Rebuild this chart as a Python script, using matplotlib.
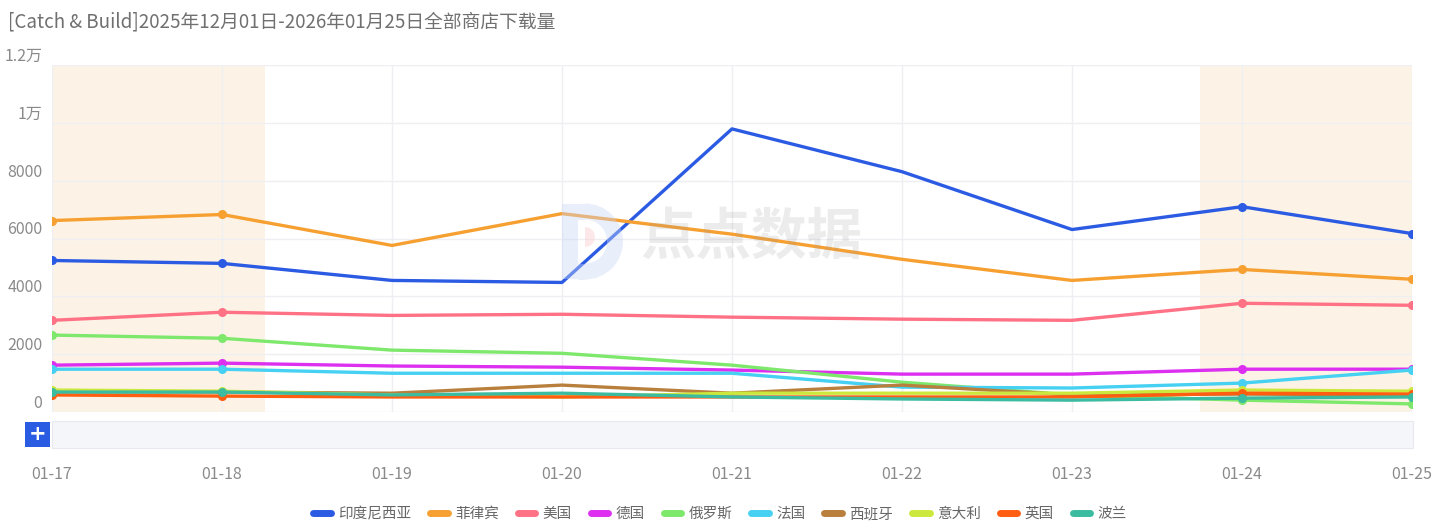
import matplotlib
matplotlib.use('Agg')
import matplotlib.pyplot as plt
from matplotlib.patches import Rectangle, Wedge

plt.rcParams['font.family'] = ['Noto Sans CJK SC', 'DejaVu Sans']

# data
dates = ['01-17', '01-18', '01-19', '01-20', '01-21', '01-22', '01-23', '01-24', '01-25']
countries = ['印度尼西亚', '菲律宾', '美国', '德国', '俄罗斯', '法国', '西班牙', '意大利', '英国', '波兰']
indonesia = [5240, 5140, 4550, 4480, 9790, 8310, 6310, 7100, 6170]
philippines = [6620, 6830, 5760, 6860, 6150, 5280, 4550, 4930, 4590]
usa = [3170, 3450, 3340, 3380, 3280, 3210, 3170, 3760, 3690]
germany = [1620, 1690, 1590, 1550, 1450, 1310, 1310, 1480, 1480]
russia = [2660, 2550, 2140, 2030, 1620, 1030, 590, 410, 280]
france = [1480, 1480, 1340, 1340, 1340, 860, 830, 1000, 1450]
spain = [700, 690, 650, 930, 650, 930, 590, 620, 590]
italy = [760, 720, 590, 520, 650, 650, 650, 760, 720]
uk = [590, 550, 520, 520, 520, 520, 520, 650, 620]
poland = [690, 690, 590, 650, 520, 450, 410, 480, 520]
series = [indonesia, philippines, usa, germany, russia, france, spain, italy, uk, poland]
colors = ['#2c5be3', '#f7a032', '#ff7185', '#dc2ff0', '#7de86b', '#46d0f2',
          '#b97f3c', '#cde83c', '#ff5d10', '#3bbba0']
yticks = [0, 2000, 4000, 6000, 8000, 10000, 12000]
ylabels = ['0', '2000', '4000', '6000', '8000', '1万', '1.2万']
weekend_spans = [(0, 1.25), (6.75, 8)]

fig = plt.figure(figsize=(14.4, 5.32), dpi=100)
ax = fig.add_axes([52 / 1440, 1 - 412 / 532, 1360 / 1440, 347 / 532])

x = list(range(len(dates)))
for s0, s1 in weekend_spans:
    ax.axvspan(s0, s1, color='#fcf3e6', zorder=0, lw=0)

for name, vals, c in zip(countries, series, colors):
    ax.plot(x, vals, color=c, lw=2.4, label=name, marker='o', markersize=5.5,
            markevery=[0, 1, 7, 8], solid_capstyle='round', solid_joinstyle='round', zorder=3)

ax.set_xlim(0, len(dates) - 1)
ax.set_ylim(0, 12000)
ax.set_xticks(x)
ax.set_xticklabels(dates)
ax.set_yticks(yticks)
ax.set_yticklabels(ylabels)
for lab in ax.get_yticklabels():
    lab.set_va('bottom')
ax.grid(True, color='#eeeef3', lw=1, zorder=1)
for sp in ax.spines.values():
    sp.set_visible(False)
ax.tick_params(axis='both', length=0, colors='#8a8a8a', labelsize=11.5)
ax.tick_params(axis='x', pad=39)
ax.tick_params(axis='y', pad=7)

# overlay in pixel units for the watermark, slider and button
ov = fig.add_axes([0, 0, 1, 1], zorder=5)
ov.set_xlim(0, 1440)
ov.set_ylim(532, 0)
ov.axis('off')
ov.patch.set_visible(False)

# watermark (drawn over the lines, semi transparent)
logo_c = '#c9d6f7'
ov.add_patch(Rectangle((562, 204), 16, 75, facecolor=logo_c, alpha=0.4, lw=0))
ov.add_patch(Wedge((585, 241.5), 38, -90, 90, width=16, facecolor=logo_c, alpha=0.4, lw=0))
ov.add_patch(Rectangle((578, 203.5), 7, 16, facecolor=logo_c, alpha=0.4, lw=0))
ov.add_patch(Rectangle((578, 263.5), 7, 16, facecolor=logo_c, alpha=0.4, lw=0))
ov.add_patch(Wedge((585, 237), 10, -90, 90, facecolor='#fbd3d3', alpha=0.5, lw=0))
ov.text(751, 238, '点点数据', ha='center', va='center', fontsize=40, fontweight='bold',
        color='#9a9a9a', alpha=0.18)

# slider strip under the plot
ov.add_patch(Rectangle((52, 421), 1361, 27, facecolor='#f5f6fa', edgecolor='#e8e9ef', lw=0.8))
ov.add_patch(Rectangle((25, 422), 25, 25, facecolor='#2a5be3', lw=0))
ov.text(37.5, 434.5, '+', color='white', ha='center', va='center',
        fontsize=15, fontweight='bold', family='DejaVu Sans')

fig.text(8 / 1440, 1 - 22 / 532, '[Catch & Build]2025年12月01日-2026年01月25日全部商店下载量',
         fontsize=13.5, color='#707070', ha='left', va='center')

fig.legend(loc='center', bbox_to_anchor=(0.5, 1 - 514 / 532), ncol=10, frameon=False,
           fontsize=10.5, handlelength=1.2, handletextpad=0.5, columnspacing=1.3,
           labelcolor='#666666')
leg = fig.legends[0]
for h in leg.legend_handles:
    h.set_linewidth(5)
    h.set_marker('')

fig.savefig('out.png', dpi=100)
